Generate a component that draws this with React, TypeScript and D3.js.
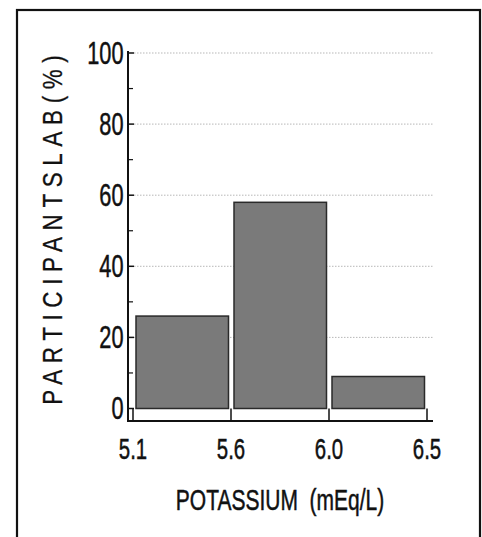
import { FC } from 'react';
import * as d3 from 'd3';

// bin edges (potassium, mEq/L) and share of participants per bin (%)
const binEdges = ['5.1', '5.6', '6.0', '6.5'];
const binValues = [26, 58, 9];
const yTicks = [0, 20, 40, 60, 80, 100];
const yMinorTicks = [10, 30, 50, 70, 90];
const gridTicks = [20, 40, 60, 80, 100];

const WIDTH = 482;
const HEIGHT = 537;
const FONT = '"Liberation Sans", Arial, sans-serif';
const SQUEEZE = 0.68;

const App: FC = () => {
  const xScale = d3.scalePoint<string>().domain(binEdges).range([133, 427]);
  const yScale = d3.scaleLinear().domain([0, 100]).range([408.5, 53]);

  const axisX = 128;
  const axisY = 421;
  const bars = binValues.map((v, i) => ({
    x0: (xScale(binEdges[i]) as number) + 3,
    x1: (xScale(binEdges[i + 1]) as number) - 2.5,
    v,
  }));

  const textStyle = { fontFamily: FONT, fill: '#111', stroke: '#111', strokeWidth: 0.5 };

  return (
    <svg
      width={WIDTH}
      height={HEIGHT}
      style={{ position: 'absolute', left: 0, top: 0, background: '#fff' }}
    >
      {/* frame */}
      <rect x={17} y={10} width={463} height={560} fill="none" stroke="#111" strokeWidth={2.2} />

      {/* dotted grid */}
      {gridTicks.map((t) => (
        <line
          key={'g' + t}
          x1={axisX + 6}
          x2={433}
          y1={yScale(t)}
          y2={yScale(t)}
          stroke="#999"
          strokeWidth={0.7}
          strokeDasharray="1.5 1.5"
        />
      ))}

      {/* bars */}
      {bars.map((b, i) => (
        <rect
          key={'b' + i}
          x={b.x0}
          y={yScale(b.v)}
          width={b.x1 - b.x0}
          height={yScale(0) - yScale(b.v)}
          fill="#7a7a7a"
          stroke="#2a2a2a"
          strokeWidth={1.5}
        />
      ))}

      {/* y axis */}
      <line x1={axisX} x2={axisX} y1={51} y2={axisY + 1} stroke="#111" strokeWidth={2} />
      {yTicks.map((t) => (
        <g key={'y' + t}>
          <line x1={axisX} x2={axisX + 6} y1={yScale(t)} y2={yScale(t)} stroke="#111" strokeWidth={1.5} />
          <text
            transform={`translate(123.5,${yScale(t) + 10.5}) scale(${SQUEEZE},1)`}
            textAnchor="end"
            fontSize={32}
            {...textStyle}
          >
            {t}
          </text>
        </g>
      ))}
      {yMinorTicks.map((t) => (
        <line key={'m' + t} x1={axisX} x2={axisX + 5} y1={yScale(t)} y2={yScale(t)} stroke="#111" strokeWidth={1.2} />
      ))}

      {/* x axis */}
      <line x1={axisX} x2={433} y1={axisY} y2={axisY} stroke="#111" strokeWidth={2} />
      {binEdges.map((e) => (
        <g key={'x' + e}>
          <line
            x1={xScale(e)}
            x2={xScale(e)}
            y1={axisY}
            y2={yScale(0)}
            stroke="#111"
            strokeWidth={1.5}
          />
          <text
            transform={`translate(${xScale(e)},458.5) scale(${SQUEEZE},1)`}
            textAnchor="middle"
            fontSize={30}
            {...textStyle}
          >
            {e}
          </text>
        </g>
      ))}

      {/* axis titles */}
      <text
        transform={`translate(280,510) scale(0.7,1)`}
        textAnchor="middle"
        fontSize={30}
        {...textStyle}
        style={{ whiteSpace: 'pre' }}
      >
        {'POTASSIUM  (mEq/L)'}
      </text>
      <text
        transform="translate(62,230) rotate(-90) scale(0.8,1)"
        textAnchor="middle"
        fontSize={28}
        textLength={437}
        lengthAdjust="spacing"
        {...textStyle}
        strokeWidth={0.3}
      >
        PARTICIPANTSLAB(%)
      </text>
    </svg>
  );
};

export default App;
